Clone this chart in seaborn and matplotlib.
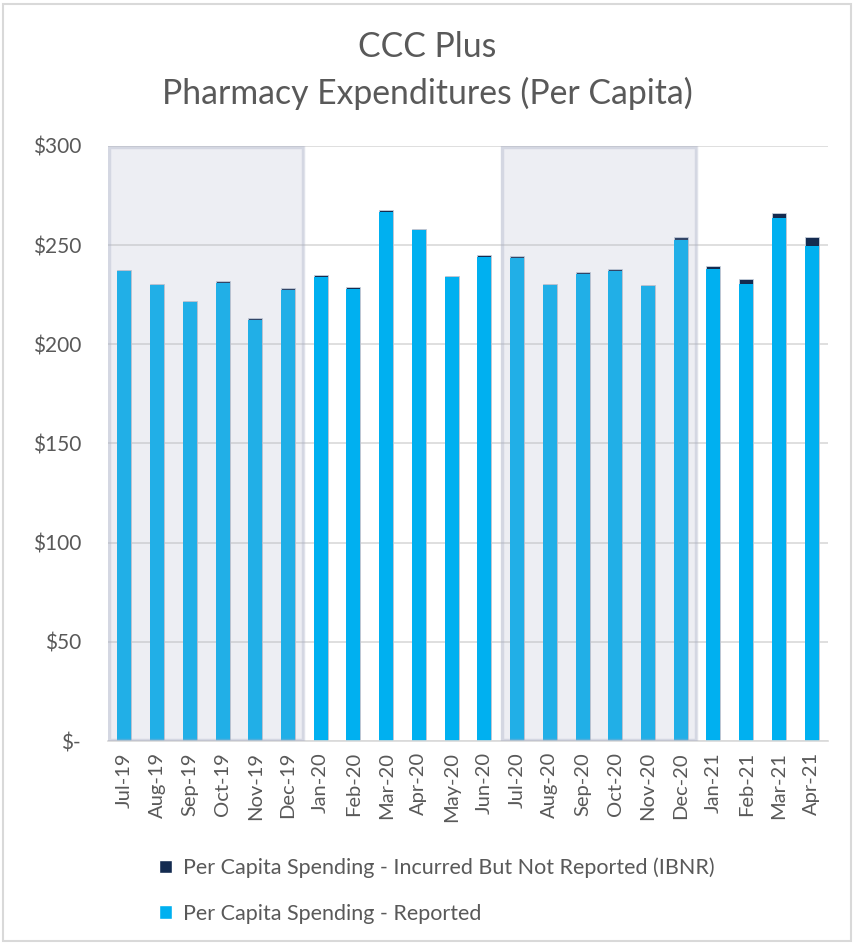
import matplotlib
matplotlib.use("Agg")
import matplotlib.pyplot as plt
import seaborn as sns
import pandas as pd
from matplotlib.patches import Patch, Rectangle

months = ["Jul-19", "Aug-19", "Sep-19", "Oct-19", "Nov-19", "Dec-19",
          "Jan-20", "Feb-20", "Mar-20", "Apr-20", "May-20", "Jun-20",
          "Jul-20", "Aug-20", "Sep-20", "Oct-20", "Nov-20", "Dec-20",
          "Jan-21", "Feb-21", "Mar-21", "Apr-21"]
total = [237.5, 230.5, 221.8, 232.0, 213.3, 228.2,
         235.0, 228.9, 267.6, 258.3, 234.5, 245.0,
         244.4, 230.5, 236.4, 238.0, 230.0, 254.0,
         239.5, 232.7, 266.4, 254.0]
ibnr = [0.3, 0.5, 0.7, 1.2, 0.8, 1.0,
        0.8, 0.8, 0.8, 0.8, 0.8, 0.8,
        0.8, 0.8, 0.8, 1.0, 0.8, 1.3,
        1.5, 2.2, 2.5, 4.6]
reported = [t - i for t, i in zip(total, ibnr)]
yticks = [0, 50, 100, 150, 200, 250, 300]
ytick_labels = ["$-", "$50", "$100", "$150", "$200", "$250", "$300"]
shaded_spans = [(0, 5), (12, 17)]  # index ranges (fiscal halves)

title1 = "CCC Plus"
title2 = "Pharmacy Expenditures (Per Capita)"
lbl_ibnr = "Per Capita Spending - Incurred But Not Reported (IBNR)"
lbl_rep = "Per Capita Spending - Reported"

c_rep = "#00B0F0"
c_ibnr = "#142B50"
txt = "#595959"

df = pd.DataFrame({"month": months, "total": total, "reported": reported})

sns.set_style("white")
plt.rcParams["font.family"] = ["Lato", "DejaVu Sans"]

fig = plt.figure(figsize=(8.54, 9.43), dpi=100)
ax = fig.add_axes([108/854, 1-741/943, 720/854, 595/943])

sns.barplot(data=df, x="month", y="total", order=months, color=c_ibnr,
            width=0.43, saturation=1, ax=ax, zorder=2,
            edgecolor="#C8D0DC", linewidth=0.6)
sns.barplot(data=df, x="month", y="reported", order=months, color=c_rep,
            width=0.43, saturation=1, ax=ax, zorder=2.1, linewidth=0)

for a, b in shaded_spans:
    ax.axvspan(a - 0.5, b + 0.5, facecolor="#A8AEC4", alpha=0.2, zorder=3,
               edgecolor="none")
    ax.add_patch(Rectangle((a - 0.5 + 0.04, 0.5), b - a + 1 - 0.08, 299,
                           fill=False, edgecolor="#A8AEC4", alpha=0.35,
                           linewidth=2.5, zorder=3))

ax.set_xlim(-0.5, len(months) - 0.5)
ax.set_ylim(0, 300)
ax.set_yticks(yticks)
ax.set_yticklabels(ytick_labels, fontsize=15, color=txt)
ax.set_xticks(range(len(months)))
ax.set_xticklabels(months, rotation=90, fontsize=14.5, color=txt)
ax.tick_params(axis="y", length=0, pad=19.5)
ax.tick_params(axis="x", length=0, pad=8)
ax.set_xlabel("")
ax.set_ylabel("")
ax.yaxis.grid(True, color="#D9D9D9", linewidth=1.2, zorder=0)
ax.set_axisbelow(True)
for s in ["left", "right", "top"]:
    ax.spines[s].set_visible(False)
ax.spines["bottom"].set_color("#D9D9D9")
ax.spines["bottom"].set_linewidth(1.2)

fig.text(0.5, 1 - 47/943, title1, ha="center", va="center",
         fontsize=24.3, color=txt)
fig.text(0.5, 1 - 93/943, title2, ha="center",
         va="center", fontsize=24.3, color=txt)

handles = [Patch(facecolor=c_ibnr, label=lbl_ibnr),
           Patch(facecolor=c_rep, label=lbl_rep)]
fig.legend(handles=handles, loc="upper left",
           bbox_to_anchor=(140/854, 1 - 838/943), frameon=False,
           fontsize=15.5, labelcolor=txt, handlelength=0.6, handleheight=0.6,
           handletextpad=0.5, labelspacing=1.2)

fig.add_artist(Rectangle((0.004, 0.002), 0.992, 0.994, transform=fig.transFigure,
                         fill=False, edgecolor="#D9D9D9", linewidth=1.5))

fig.savefig("out.png", dpi=100)
